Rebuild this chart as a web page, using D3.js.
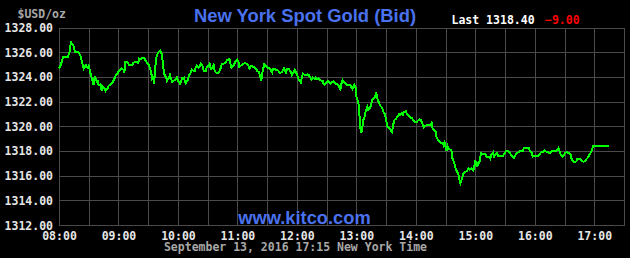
<!DOCTYPE html>
<html>
<head>
<meta charset="utf-8">
<script src="https://cdn.jsdelivr.net/npm/d3@7/dist/d3.min.js"></script>
<style>
  body { margin: 0; background: #000; }
  svg { display: block; }
  .mono { font-family: "DejaVu Sans Mono", monospace; font-weight: bold; font-size: 11.5px; }
  .sans { font-family: "Liberation Sans", Arial, sans-serif; font-weight: bold; }
</style>
</head>
<body>
<svg id="chart" width="630" height="258"></svg>
<script>
// minutes after 08:00 New York time, and the bid at that minute
const minutes = [
  0,2,4,8,9,11,12,13,15,16,
  18,20,22,24,25,27,29,30,31,32,
  34,35,36,38,39,40,42,43,44,46,
  47,49,50,52,54,56,57,59,60,62,
  63,65,66,67,69,71,74,75,77,79,
  80,81,83,84,86,87,89,90,92,93,
  94,95,96,97,98,100,102,103,104,105,
  106,108,109,110,111,112,114,115,116,118,
  119,120,122,123,124,126,127,128,130,131,
  133,134,135,137,138,139,141,142,
  143,145,146,148,149,151,152,153,155,156,
  157,159,161,163,164,166,168,170,172,173,
  174,176,178,180,181,182,184,186,188,190,
  191,192,194,195,196,198,199,200,202,203,
  204,205,207,208,209,211,213,215,216,217,
  219,221,223,225,226,227,229,230,232,234,
  235,237,238,240,241,242,244,245,246,247,
  249,251,252,254,255,256,258,259,260,262,
  263,264,266,267,268,270,271,272,274,275,
  277,279,281,282,283,
  284,285,286,288,290,292,294,295,296,298,
  299,300,302,303,304,305,306,307,308,309,
  311,312,313,315,316,317,319,320,321,323,
  324,326,327,329,330,331,333,334,336,337,
  338,340,342,343,344,346,347,348,350,351,
  352,354,355,356,358,359,361,362,364,365,
  366,368,369,371,373,375,376,377,379,380,
  381,383,384,385,387,388,389,391,392,393,
  395,396,397,399,400,401,403,404,405,407,
  408,410,412,413,414,415,
  416,418,419,420,421,422,423,424,425,426,
  428,430,431,434,435,436,438,439,440,442,
  443,448,449,451,453,455,457,459,460,462,
  464,466,468,469,474,475,477,478,480,482,
  484,486,488,490,492,494,496,498,502,504,
  505,506,508,510,512,514,516,517,519,521,
  522,523,525,526,527,529,531,532,534,535,
  537,538,539,555
];
const bid = [
  1324.68,1325.01,1325.60,1325.65,1325.65,1326.08,1326.89,1326.68,1326.46,1326.03,
  1326.03,1325.98,1325.65,1324.95,1324.68,1324.95,1324.74,1324.90,1324.58,1324.20,
  1323.61,1323.34,1324.04,1323.61,1323.66,1323.34,1323.39,1322.91,1323.23,1323.07,
  1322.85,1323.07,1323.28,1323.39,1323.55,1323.88,1324.09,1324.25,1324.41,1324.58,
  1324.68,1324.58,1324.36,1325.22,1325.17,1324.95,1324.95,1325.12,1325.22,1325.17,
  1325.12,1325.49,1325.44,1325.55,1325.55,1325.38,1325.12,1325.06,1324.68,1324.36,
  1323.88,1324.09,1323.45,1324.68,1325.55,1325.98,1326.14,1326.03,1325.71,1324.95,
  1324.25,1323.93,1323.66,1323.82,1323.93,1324.15,1323.61,1323.66,1323.71,1323.82,
  1323.98,1323.71,1323.45,1323.55,1323.88,1323.93,1323.66,1323.50,1323.77,1324.09,
  1324.36,1324.58,1324.52,1324.47,1324.79,1324.90,1324.74,1324.85,
  1325.06,1324.85,1324.47,1324.47,1324.79,1324.95,1325.06,1324.63,1324.74,1324.95,
  1324.47,1324.31,1324.31,1324.68,1325.01,1325.06,1325.17,1325.38,1325.44,1325.06,
  1324.74,1324.90,1325.22,1325.38,1325.28,1324.79,1324.95,1325.06,1325.12,1325.01,
  1324.90,1324.68,1324.90,1324.90,1324.79,1324.74,1324.63,1324.47,1324.36,1323.98,
  1323.66,1324.25,1325.01,1324.95,1324.90,1324.74,1324.63,1324.36,1324.63,1324.68,
  1324.58,1324.52,1324.31,1324.41,1324.58,1324.68,1324.36,1324.63,1324.63,1324.36,
  1324.15,1324.41,1324.58,1324.20,1323.98,1323.77,1323.55,1323.98,1324.25,1324.20,
  1324.15,1324.20,1324.15,1323.88,1323.77,1323.93,1323.82,1323.93,1323.82,1323.88,
  1323.77,1323.71,1323.66,1323.45,1323.39,1323.55,1323.66,1323.61,1323.45,1323.55,
  1323.66,1323.45,1323.39,1323.34,1323.12,
  1322.99,1323.47,1323.74,1323.53,1323.36,1323.31,1323.31,1323.15,1323.04,1323.36,
  1323.26,1322.39,1321.96,1321.05,1319.81,1319.49,1319.92,1320.51,1320.62,1321.10,
  1321.59,1321.32,1321.37,1321.75,1322.13,1322.23,1322.39,1322.72,1322.29,1321.86,
  1321.69,1321.48,1321.21,1320.94,1320.51,1320.02,1319.86,1319.76,1319.54,1320.02,
  1320.46,1320.62,1320.83,1320.99,1320.94,1321.10,1320.94,1321.16,1321.21,1320.99,
  1320.89,1320.78,1320.67,1320.67,1320.40,1320.35,1320.35,1320.46,1320.56,1320.51,
  1320.35,1319.92,1320.02,1320.08,1320.08,1320.08,1320.24,1319.81,1319.65,1319.54,
  1319.05,1318.84,1318.79,1318.62,1318.68,1318.46,1318.68,1317.98,1318.41,1318.19,
  1318.09,1317.98,1317.38,1316.95,1316.63,1316.41,1316.09,1315.66,1315.39,1315.88,
  1316.15,1316.31,1316.41,1316.58,1316.47,1316.52,
  1316.58,1316.41,1316.74,1317.17,1317.12,1316.74,1317.06,1317.01,1317.55,1317.82,
  1317.76,1317.76,1317.55,1317.49,1317.38,1317.65,1317.87,1317.55,1317.71,1317.82,
  1317.55,1317.55,1317.76,1317.98,1317.98,1317.82,1317.60,1317.44,1317.60,1317.82,
  1317.92,1318.03,1318.03,1318.25,1318.25,1318.03,1317.82,1317.55,1317.60,1317.55,
  1317.65,1317.87,1317.92,1318.03,1317.92,1317.87,1317.87,1318.03,1318.03,1318.25,
  1317.98,1317.71,1317.55,1317.76,1317.92,1317.82,1317.76,1317.38,1317.12,1317.12,
  1317.17,1317.38,1317.38,1317.33,1317.22,1317.12,1317.22,1317.33,1317.49,1317.71,
  1317.92,1318.19,1318.41,1318.40
];
const priceTicks = [1312, 1314, 1316, 1318, 1320, 1322, 1324, 1326, 1328];
const lastPrice = 1318.40;
const change = -9.00;
const stamp = "September 13, 2016 17:15 New York Time";

const svg = d3.select("#chart");
const W = 630, H = 258;
const plotL = 59, plotR = 624, plotT = 27.5, plotB = 225;

svg.append("rect").attr("width", W).attr("height", H).attr("fill", "#000");

const day = new Date(2016, 8, 13, 8, 0);
const end = d3.timeMinute.offset(day, 570);
const data = minutes.map((m, i) => ({ t: d3.timeMinute.offset(day, m), v: bid[i] }));

const x = d3.scaleTime().domain([day, end]).range([plotL, plotR]);
const y = d3.scaleLinear().domain([1312, 1328]).range([plotB, plotT]);

// grid
const grid = svg.append("g").attr("stroke", "#4a4a4a").attr("stroke-width", 1)
  .attr("shape-rendering", "crispEdges");
grid.selectAll(".v")
  .data(x.ticks(d3.timeMinute.every(30)))
  .enter().append("line")
  .attr("x1", d => Math.round(x(d)) + 0.5).attr("x2", d => Math.round(x(d)) + 0.5)
  .attr("y1", plotT).attr("y2", plotB);
grid.selectAll(".h")
  .data(priceTicks)
  .enter().append("line")
  .attr("x1", plotL).attr("x2", plotR + 1)
  .attr("y1", d => Math.round(y(d)) + 0.5).attr("y2", d => Math.round(y(d)) + 0.5);

// axes labels
const yAxis = svg.append("g")
  .attr("transform", `translate(${plotL},0)`)
  .call(d3.axisLeft(y).tickValues(priceTicks).tickFormat(d3.format(".2f")).tickSize(0).tickPadding(6));
yAxis.select(".domain").remove();
yAxis.selectAll("text").attr("class", "mono").attr("fill", "#e6e6e6").attr("dy", 4);

const xAxis = svg.append("g")
  .attr("transform", `translate(0,${plotB})`)
  .call(d3.axisBottom(x).ticks(d3.timeHour.every(1)).tickFormat(d3.timeFormat("%H:%M")).tickSize(0));
xAxis.select(".domain").remove();
xAxis.selectAll("text").attr("class", "mono").attr("fill", "#e6e6e6").attr("y", 15).attr("dy", 0);

// watermark
svg.append("text").attr("class", "sans")
  .attr("x", 304.5).attr("y", 223.5).attr("text-anchor", "middle")
  .attr("font-size", 18.3).attr("fill", "#4a72ee")
  .text("www.kitco.com");

// price line
const line = d3.line().x(d => x(d.t)).y(d => y(d.v));
svg.append("path").datum(data)
  .attr("d", line)
  .attr("fill", "none")
  .attr("stroke", "#00ff00")
  .attr("stroke-width", 2)
  .attr("stroke-linejoin", "miter")
  .attr("shape-rendering", "crispEdges");

// header
svg.append("text").attr("class", "mono")
  .attr("x", 17.5).attr("y", 17.5).attr("fill", "#a8a8a8")
  .text("$USD/oz");

svg.append("text").attr("class", "sans")
  .attr("x", 305).attr("y", 22).attr("text-anchor", "middle")
  .attr("font-size", 18.4).attr("fill", "#4a72ee")
  .text("New York Spot Gold (Bid)");

svg.append("text").attr("class", "mono")
  .attr("x", 451.5).attr("y", 24).attr("fill", "#ffffff")
  .text("Last " + d3.format(".2f")(lastPrice));

svg.append("text").attr("class", "mono")
  .attr("x", 545).attr("y", 24).attr("fill", "#ff0000")
  .text(d3.format(".2f")(change));

// footer timestamp
svg.append("text").attr("class", "mono")
  .attr("x", 295.5).attr("y", 250.5).attr("text-anchor", "middle").attr("fill", "#a8a8a8")
  .text(stamp);
</script>
</body>
</html>
